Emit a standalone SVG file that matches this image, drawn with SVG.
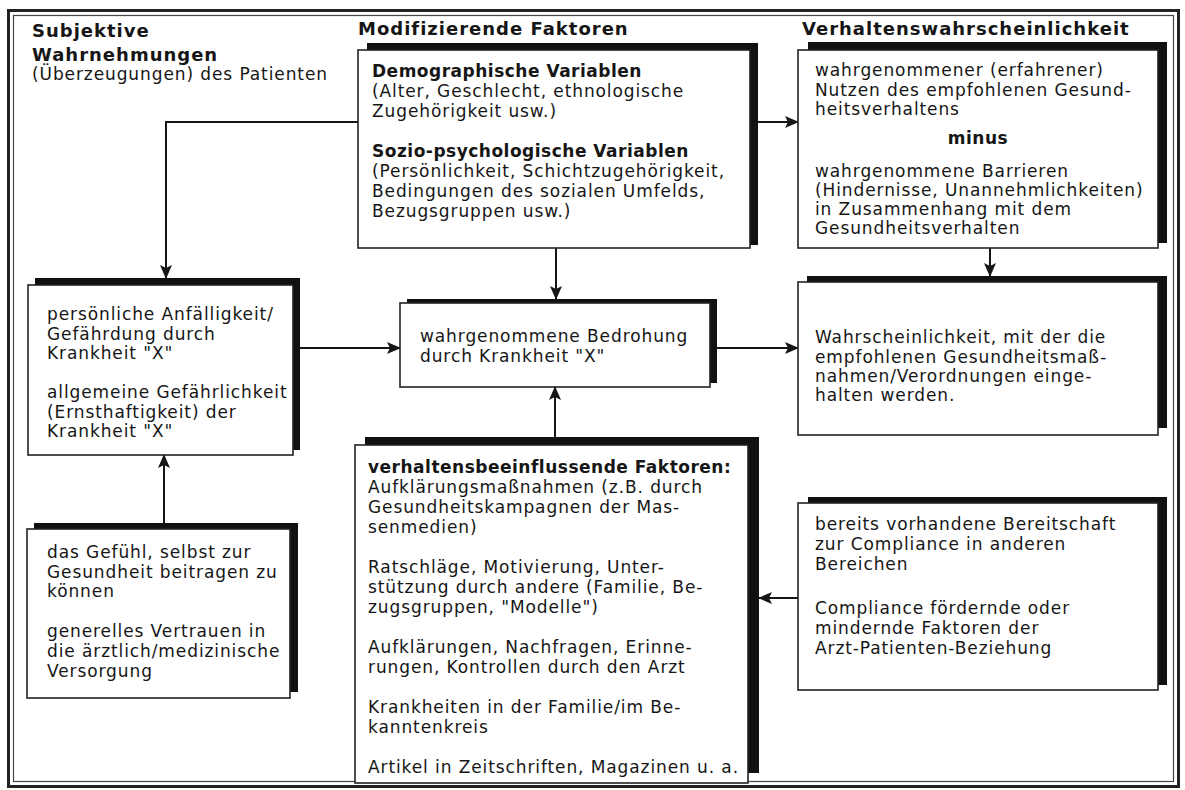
<svg xmlns="http://www.w3.org/2000/svg" width="1185" height="790" viewBox="0 0 1185 790">
<style>
.t{font-family:"DejaVu Sans","Liberation Sans",sans-serif;font-size:17px;letter-spacing:0.9px;fill:#161616}
.b{font-weight:bold;letter-spacing:0.5px}
.h{font-family:"DejaVu Sans","Liberation Sans",sans-serif;font-size:18px;font-weight:bold;letter-spacing:1px;fill:#161616}
.box{fill:#fff;stroke:#222;stroke-width:1.6}
.sh{fill:#111}
.c{fill:none;stroke:#161616;stroke-width:2}
</style>
<defs>
<marker id="ar" markerUnits="userSpaceOnUse" markerWidth="14" markerHeight="12" viewBox="0 0 14 12" refX="13" refY="6" orient="auto">
<path d="M0,0 L14,6 L0,12 L3,6 Z" fill="#161616"/>
</marker>
</defs>
<rect width="1185" height="790" fill="#fff"/>
<g id="frame">
<rect x="8.5" y="10.5" width="1170" height="776" fill="none" stroke="#222" stroke-width="3"/>
<rect x="13.5" y="15.5" width="1160" height="766" fill="none" stroke="#444" stroke-width="1.2"/>
</g>
<g id="headings">
<text class="h" x="32" y="37">Subjektive</text>
<text class="h" x="32" y="61">Wahrnehmungen</text>
<text class="t" x="32" y="80">(Überzeugungen) des Patienten</text>
<text class="h" x="358" y="35">Modifizierende Faktoren</text>
<text class="h" x="802" y="35">Verhaltenswahrscheinlichkeit</text>
</g>
<g id="connectors">
<path class="c" d="M358,122 H166 V278" marker-end="url(#ar)"/>
<path class="c" d="M750,122 H798" marker-end="url(#ar)"/>
<path class="c" d="M556,248 V299" marker-end="url(#ar)"/>
<path class="c" d="M300,348 H400" marker-end="url(#ar)"/>
<path class="c" d="M717,348 H798" marker-end="url(#ar)"/>
<path class="c" d="M990,248 V276" marker-end="url(#ar)"/>
<path class="c" d="M164,523 V455" marker-end="url(#ar)"/>
<path class="c" d="M555,437 V387" marker-end="url(#ar)"/>
<path class="c" d="M798,598 H759" marker-end="url(#ar)"/>
</g>
<g id="demographics">
<rect class="sh" x="367" y="43" width="391" height="202"/>
<rect class="box" x="358" y="50" width="392" height="198"/>
<text class="t b" x="372" y="77">Demographische Variablen</text>
<text class="t" x="372" y="97">(Alter, Geschlecht, ethnologische</text>
<text class="t" x="372" y="117">Zugehörigkeit usw.)</text>
<text class="t b" x="372" y="157">Sozio-psychologische Variablen</text>
<text class="t" x="372" y="177">(Persönlichkeit, Schichtzugehörigkeit,</text>
<text class="t" x="372" y="197">Bedingungen des sozialen Umfelds,</text>
<text class="t" x="372" y="217">Bezugsgruppen usw.)</text>
</g>
<g id="benefits">
<rect class="sh" x="808" y="42" width="359" height="201"/>
<rect class="box" x="798" y="50" width="360" height="198"/>
<text class="t" x="815" y="76">wahrgenommener (erfahrener)</text>
<text class="t" x="815" y="95.5">Nutzen des empfohlenen Gesund-</text>
<text class="t" x="815" y="115">heitsverhaltens</text>
<text class="t b" x="978" y="144" text-anchor="middle">minus</text>
<text class="t" x="815" y="177">wahrgenommene Barrieren</text>
<text class="t" x="815" y="196">(Hindernisse, Unannehmlichkeiten)</text>
<text class="t" x="815" y="215">in Zusammenhang mit dem</text>
<text class="t" x="815" y="234">Gesundheitsverhalten</text>
</g>
<g id="susceptibility">
<rect class="sh" x="35" y="278" width="265" height="172"/>
<rect class="box" x="28" y="285" width="265" height="170"/>
<text class="t" x="47" y="320">persönliche Anfälligkeit/</text>
<text class="t" x="47" y="339.5">Gefährdung durch</text>
<text class="t" x="47" y="359">Krankheit "X"</text>
<text class="t" x="47" y="398">allgemeine Gefährlichkeit</text>
<text class="t" x="47" y="417.5">(Ernsthaftigkeit) der</text>
<text class="t" x="47" y="437">Krankheit "X"</text>
</g>
<g id="threat">
<rect class="sh" x="407" y="299" width="310" height="84"/>
<rect class="box" x="400" y="303" width="310" height="84"/>
<text class="t" x="420" y="342">wahrgenommene Bedrohung</text>
<text class="t" x="420" y="362">durch Krankheit "X"</text>
</g>
<g id="likelihood">
<rect class="sh" x="807" y="276" width="360" height="152"/>
<rect class="box" x="798" y="282" width="360" height="153"/>
<text class="t" x="815" y="343">Wahrscheinlichkeit, mit der die</text>
<text class="t" x="815" y="362.5">empfohlenen Gesundheitsmaß-</text>
<text class="t" x="815" y="382">nahmen/Verordnungen einge-</text>
<text class="t" x="815" y="401">halten werden.</text>
</g>
<g id="selfefficacy">
<rect class="sh" x="34" y="523" width="264" height="169"/>
<rect class="box" x="27" y="529" width="263" height="169"/>
<text class="t" x="47" y="558">das Gefühl, selbst zur</text>
<text class="t" x="47" y="578">Gesundheit beitragen zu</text>
<text class="t" x="47" y="597">können</text>
<text class="t" x="47" y="637">generelles Vertrauen in</text>
<text class="t" x="47" y="657">die ärztlich/medizinische</text>
<text class="t" x="47" y="677">Versorgung</text>
</g>
<g id="cues">
<rect class="sh" x="365" y="437" width="394" height="336"/>
<rect class="box" x="355" y="445" width="393" height="338"/>
<text class="t b" x="368" y="473">verhaltensbeeinflussende Faktoren:</text>
<text class="t" x="368" y="493">Aufklärungsmaßnahmen (z.B. durch</text>
<text class="t" x="368" y="513">Gesundheitskampagnen der Mas-</text>
<text class="t" x="368" y="533">senmedien)</text>
<text class="t" x="368" y="573">Ratschläge, Motivierung, Unter-</text>
<text class="t" x="368" y="593">stützung durch andere (Familie, Be-</text>
<text class="t" x="368" y="613">zugsgruppen, "Modelle")</text>
<text class="t" x="368" y="653">Aufklärungen, Nachfragen, Erinne-</text>
<text class="t" x="368" y="673">rungen, Kontrollen durch den Arzt</text>
<text class="t" x="368" y="713">Krankheiten in der Familie/im Be-</text>
<text class="t" x="368" y="733">kanntenkreis</text>
<text class="t" x="368" y="773">Artikel in Zeitschriften, Magazinen u. a.</text>
</g>
<g id="compliance">
<rect class="sh" x="808" y="497" width="359" height="188"/>
<rect class="box" x="798" y="503" width="360" height="187"/>
<text class="t" x="815" y="530">bereits vorhandene Bereitschaft</text>
<text class="t" x="815" y="550">zur Compliance in anderen</text>
<text class="t" x="815" y="570">Bereichen</text>
<text class="t" x="815" y="614">Compliance fördernde oder</text>
<text class="t" x="815" y="634">mindernde Faktoren der</text>
<text class="t" x="815" y="654">Arzt-Patienten-Beziehung</text>
</g>
</svg>
